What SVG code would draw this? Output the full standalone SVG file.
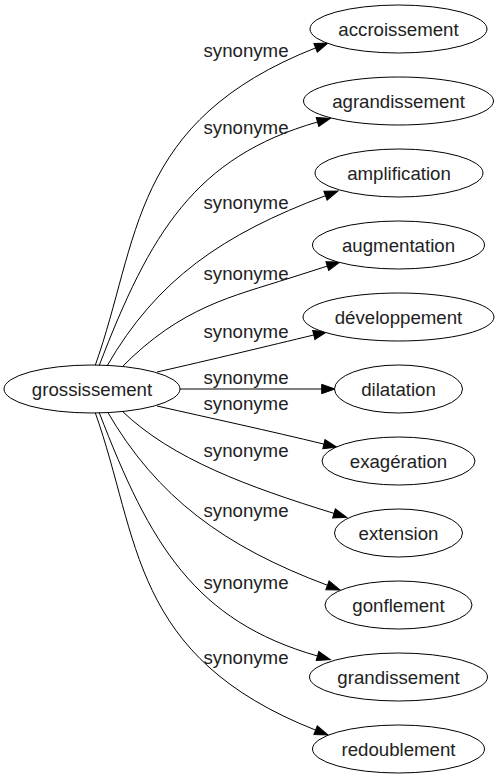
<svg xmlns="http://www.w3.org/2000/svg" width="499" height="779" viewBox="0 0 499 779">
<style>
.n ellipse{fill:#fff;stroke:#000;stroke-width:1}
.n text{font-family:"Liberation Sans",Arial,sans-serif;font-size:18.67px;fill:#222;text-anchor:middle}
.e path{fill:none;stroke:#000;stroke-width:1;marker-end:url(#arr)}
.lbl{font-family:"Liberation Sans",Arial,sans-serif;font-size:18.67px;fill:#222;text-anchor:middle}
</style>
<defs>
<marker id="arr" markerUnits="userSpaceOnUse" markerWidth="14" markerHeight="10" refX="0" refY="4.67" orient="auto" overflow="visible">
<path d="M0,0 L13.3,4.67 L0,9.33 z" fill="#000" stroke="#000" stroke-width="1"/>
</marker>
</defs>
<rect width="499" height="779" fill="#fff"/>
<g id="edges" class="e">
<path d="M95,366 C140,240 129.6,121.3 315.6,47.9"/>
<path d="M99,366 C150,233 195,157 317.5,122"/>
<path d="M107,366 C157,279.4 222.5,234.3 325.5,195.7"/>
<path d="M122,367 C181.5,306.6 233,296.3 290,278 L327.3,266.1"/>
<path d="M157,372 C210,360 270,345.5 313.8,335"/>
<path d="M180,389 L321.7,389"/>
<path d="M157,406 C210,418 270,431 323.9,444.1"/>
<path d="M122,411 C172.4,459.3 248,486.7 334,513.4"/>
<path d="M107,411 C157,497.6 224.5,546.7 327.5,585.3"/>
<path d="M99,412 C150,545 195,621 317.5,656"/>
<path d="M95,412 C140,538 129.6,656.7 315.6,730.1"/>
</g>
<g id="edge-labels">
<text class="lbl" x="246" y="57">synonyme</text>
<text class="lbl" x="246" y="133.5">synonyme</text>
<text class="lbl" x="246" y="208.5">synonyme</text>
<text class="lbl" x="246" y="280">synonyme</text>
<text class="lbl" x="246" y="338">synonyme</text>
<text class="lbl" x="246" y="383.5">synonyme</text>
<text class="lbl" x="246" y="410">synonyme</text>
<text class="lbl" x="246" y="457">synonyme</text>
<text class="lbl" x="246" y="517">synonyme</text>
<text class="lbl" x="246" y="589">synonyme</text>
<text class="lbl" x="246" y="663.5">synonyme</text>
</g>
<g id="grossissement" class="n"><ellipse cx="92" cy="389" rx="88" ry="24"/><text x="92" y="395.5">grossissement</text></g>
<g id="accroissement" class="n"><ellipse cx="398.5" cy="29" rx="88.5" ry="24"/><text x="398.5" y="35.5">accroissement</text></g>
<g id="agrandissement" class="n"><ellipse cx="398.5" cy="101" rx="95" ry="24"/><text x="398.5" y="107.5">agrandissement</text></g>
<g id="amplification" class="n"><ellipse cx="399" cy="173" rx="84" ry="24"/><text x="399" y="179.5">amplification</text></g>
<g id="augmentation" class="n"><ellipse cx="398.5" cy="245" rx="86" ry="24"/><text x="398.5" y="251.5">augmentation</text></g>
<g id="developpement" class="n"><ellipse cx="398.5" cy="317" rx="95.5" ry="24"/><text x="398.5" y="323.5">développement</text></g>
<g id="dilatation" class="n"><ellipse cx="398.5" cy="389" rx="64" ry="24"/><text x="398.5" y="395.5">dilatation</text></g>
<g id="exageration" class="n"><ellipse cx="398.5" cy="461" rx="76.5" ry="24"/><text x="398.5" y="467.5">exagération</text></g>
<g id="extension" class="n"><ellipse cx="398.5" cy="533" rx="64" ry="24"/><text x="398.5" y="539.5">extension</text></g>
<g id="gonflement" class="n"><ellipse cx="398.5" cy="605" rx="73.5" ry="24"/><text x="398.5" y="611.5">gonflement</text></g>
<g id="grandissement" class="n"><ellipse cx="398.5" cy="677" rx="89" ry="24"/><text x="398.5" y="683.5">grandissement</text></g>
<g id="redoublement" class="n"><ellipse cx="398.5" cy="749" rx="86" ry="24"/><text x="398.5" y="755.5">redoublement</text></g>
</svg>
